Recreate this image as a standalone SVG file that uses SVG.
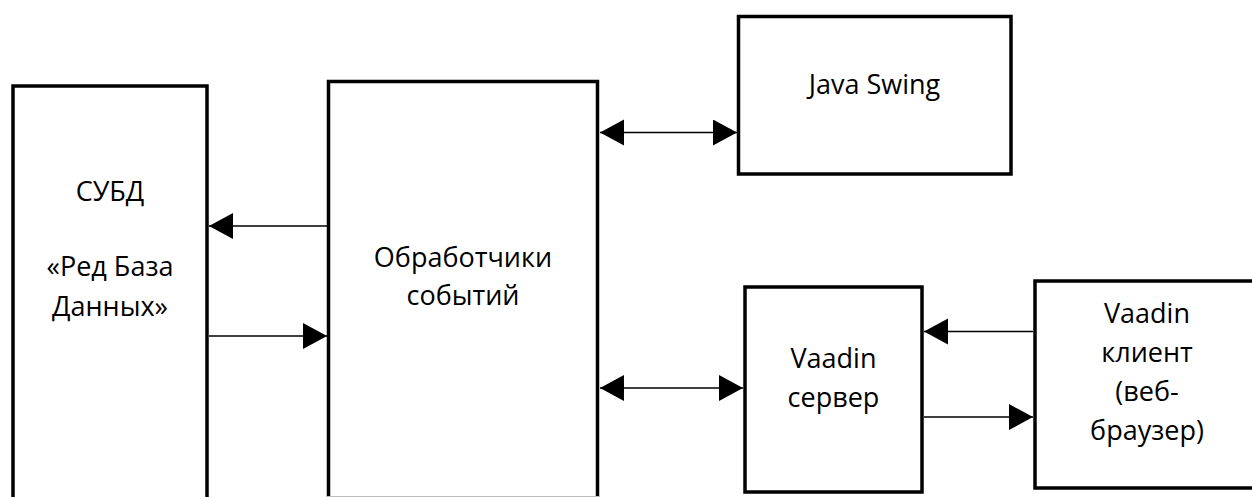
<svg xmlns="http://www.w3.org/2000/svg" width="1252" height="497" viewBox="0 0 1252 497">
<style>
.box{fill:#fff;stroke:#000;stroke-width:3.5}
.lbl{font-family:"Open Sans","Noto Sans","Liberation Sans",sans-serif;font-size:27px;fill:#000;text-anchor:middle}
.con{stroke:#000;stroke-width:1.5;fill:none}
</style>
<defs>
<marker id="ah" markerUnits="userSpaceOnUse" markerWidth="26" markerHeight="28" refX="24" refY="13" orient="auto-start-reverse" viewBox="0 0 26 28">
<path d="M0,0 L24,13 L0,26 Z" fill="#000"/>
</marker>
</defs>
<rect width="1252" height="497" fill="#fff"/>
<g id="node-dbms">
<path class="box" d="M13,500 V86 H207 V500"/>
<text class="lbl" x="110" y="201">СУБД</text>
<text class="lbl" x="110" y="276">«Ред База</text>
<text class="lbl" x="110" y="316">Данных»</text>
</g>
<g id="node-handlers">
<path class="box" d="M328.5,500 V81.5 H597.5 V500"/>
<line x1="327" y1="496.5" x2="599" y2="496.5" stroke="#bdbdbd" stroke-width="1"/>
<text class="lbl" x="463" y="267">Обработчики</text>
<text class="lbl" x="463" y="305">событий</text>
</g>
<g id="node-swing">
<rect class="box" x="738.5" y="16.5" width="272.5" height="157.5"/>
<text class="lbl" x="874.5" y="94">Java Swing</text>
</g>
<g id="node-vaadin-server">
<rect class="box" x="745" y="287" width="177" height="205"/>
<text class="lbl" x="833.5" y="368">Vaadin</text>
<text class="lbl" x="833.5" y="407">сервер</text>
</g>
<g id="node-vaadin-client">
<rect class="box" x="1035" y="281" width="225" height="207"/>
<text class="lbl" x="1147" y="323">Vaadin</text>
<text class="lbl" x="1147" y="362">клиент</text>
<text class="lbl" x="1147" y="401">(веб-</text>
<text class="lbl" x="1147" y="440">браузер)</text>
</g>
<g id="connectors">
<line class="con" x1="600" y1="132.5" x2="737" y2="132.5" marker-start="url(#ah)" marker-end="url(#ah)"/>
<line class="con" x1="600" y1="388" x2="743" y2="388" marker-start="url(#ah)" marker-end="url(#ah)"/>
<line class="con" x1="327" y1="226" x2="209" y2="226" marker-end="url(#ah)"/>
<line class="con" x1="209" y1="336" x2="327" y2="336" marker-end="url(#ah)"/>
<line class="con" x1="1033" y1="331.5" x2="924" y2="331.5" marker-end="url(#ah)"/>
<line class="con" x1="924" y1="417" x2="1033" y2="417" marker-end="url(#ah)"/>
</g>
</svg>
